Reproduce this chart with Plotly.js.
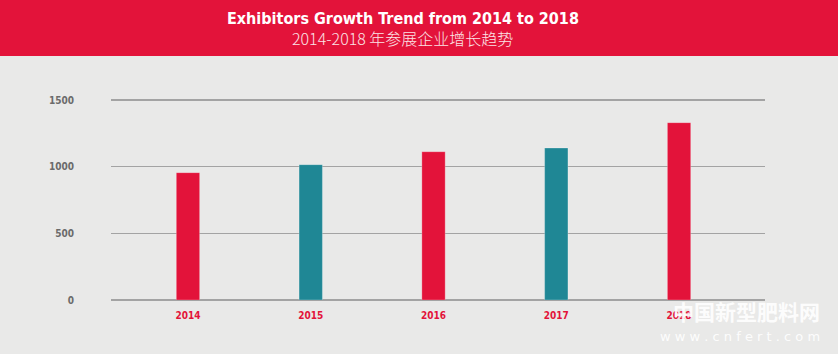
<!DOCTYPE html>
<html><head><meta charset="utf-8">
<script src="https://cdn.plot.ly/plotly-3.0.1.min.js"></script>
<style>html,body{margin:0;padding:0;background:#e9e9e8;}#chart{width:838px;height:354px;}</style>
</head><body><div id="chart"></div>
<script>
const years = ['2014', '2015', '2016', '2017', '2018'];
const exhibitors = [955, 1015, 1112, 1140, 1330];
const barColors = ['#e3133a', '#1f8795', '#e3133a', '#1f8795', '#e3133a'];
const yTicks = [0, 500, 1000, 1500];
const titleEn = 'Exhibitors Growth Trend from 2014 to 2018';
const titleZh = '2014-2018 年参展企业增长趋势';

const T = 96, H = 204; // plot top & height in px
const trace = {
  type: 'bar', x: years, y: exhibitors,
  marker: {color: barColors, line: {color: 'rgba(255,255,255,0.25)', width: 1}},
  width: 0.19, hoverinfo: 'x+y'
};
const py = (pix) => (T + H - pix) / H; // paper y from pixel y
const px = (pix) => (pix - 111) / 654;
const layout = {
  width: 838, height: 354,
  paper_bgcolor: '#e9e9e8', plot_bgcolor: '#e9e9e8',
  margin: {l: 111, r: 73, t: T, b: 354 - T - H},
  showlegend: false,
  xaxis: {type: 'category', range: [-0.627, 4.70], showgrid: false, zeroline: false,
    showline: false, ticks: 'outside', ticklen: 6, tickcolor: 'rgba(0,0,0,0)',
    tickfont: {family: 'DejaVu Sans Condensed', size: 10, color: '#e3133a', weight: 'bold'}},
  yaxis: {range: [0, 1530], tickvals: yTicks, ticktext: yTicks.map(String),
    showgrid: true, gridcolor: '#a3a3a3', gridwidth: 1.5,
    zeroline: true, zerolinecolor: '#a3a3a3', zerolinewidth: 1.5,
    ticks: 'outside', ticklen: 34, tickcolor: 'rgba(0,0,0,0)',
    tickfont: {family: 'DejaVu Sans Condensed', size: 10, color: '#6b6b6b', weight: 'bold'}},
  shapes: [{type: 'rect', xref: 'paper', yref: 'paper', layer: 'below',
    x0: px(0), x1: px(838), y0: py(56), y1: py(0),
    fillcolor: '#e3133a', line: {width: 0}}],
  annotations: [
    {xref: 'paper', yref: 'paper', x: px(403), y: py(18), text: '<b>' + titleEn + '</b>',
     showarrow: false, xanchor: 'center', yanchor: 'middle',
     font: {family: 'DejaVu Sans Condensed', size: 16, color: '#ffffff'}},
    {xref: 'paper', yref: 'paper', x: px(402), y: py(38), text: titleZh,
     showarrow: false, xanchor: 'center', yanchor: 'middle',
     font: {family: 'Noto Sans CJK SC', size: 16, color: '#fbe3e6', weight: 300}},
    {xref: 'paper', yref: 'paper', x: px(822), y: py(311), text: '<b>中国新型肥料网</b>',
     showarrow: false, xanchor: 'right', yanchor: 'middle',
     font: {family: 'Noto Sans CJK SC', size: 21, color: 'rgba(255,255,255,0.92)'}},
    {xref: 'paper', yref: 'paper', x: px(822), y: py(336), text: 'w w w . c n f e r t . c o m',
     showarrow: false, xanchor: 'right', yanchor: 'middle',
     font: {family: 'DejaVu Sans', size: 13, color: 'rgba(255,255,255,0.92)'}}
  ]
};
Plotly.newPlot('chart', [trace], layout, {displayModeBar: false, staticPlot: true});
</script></body></html>
